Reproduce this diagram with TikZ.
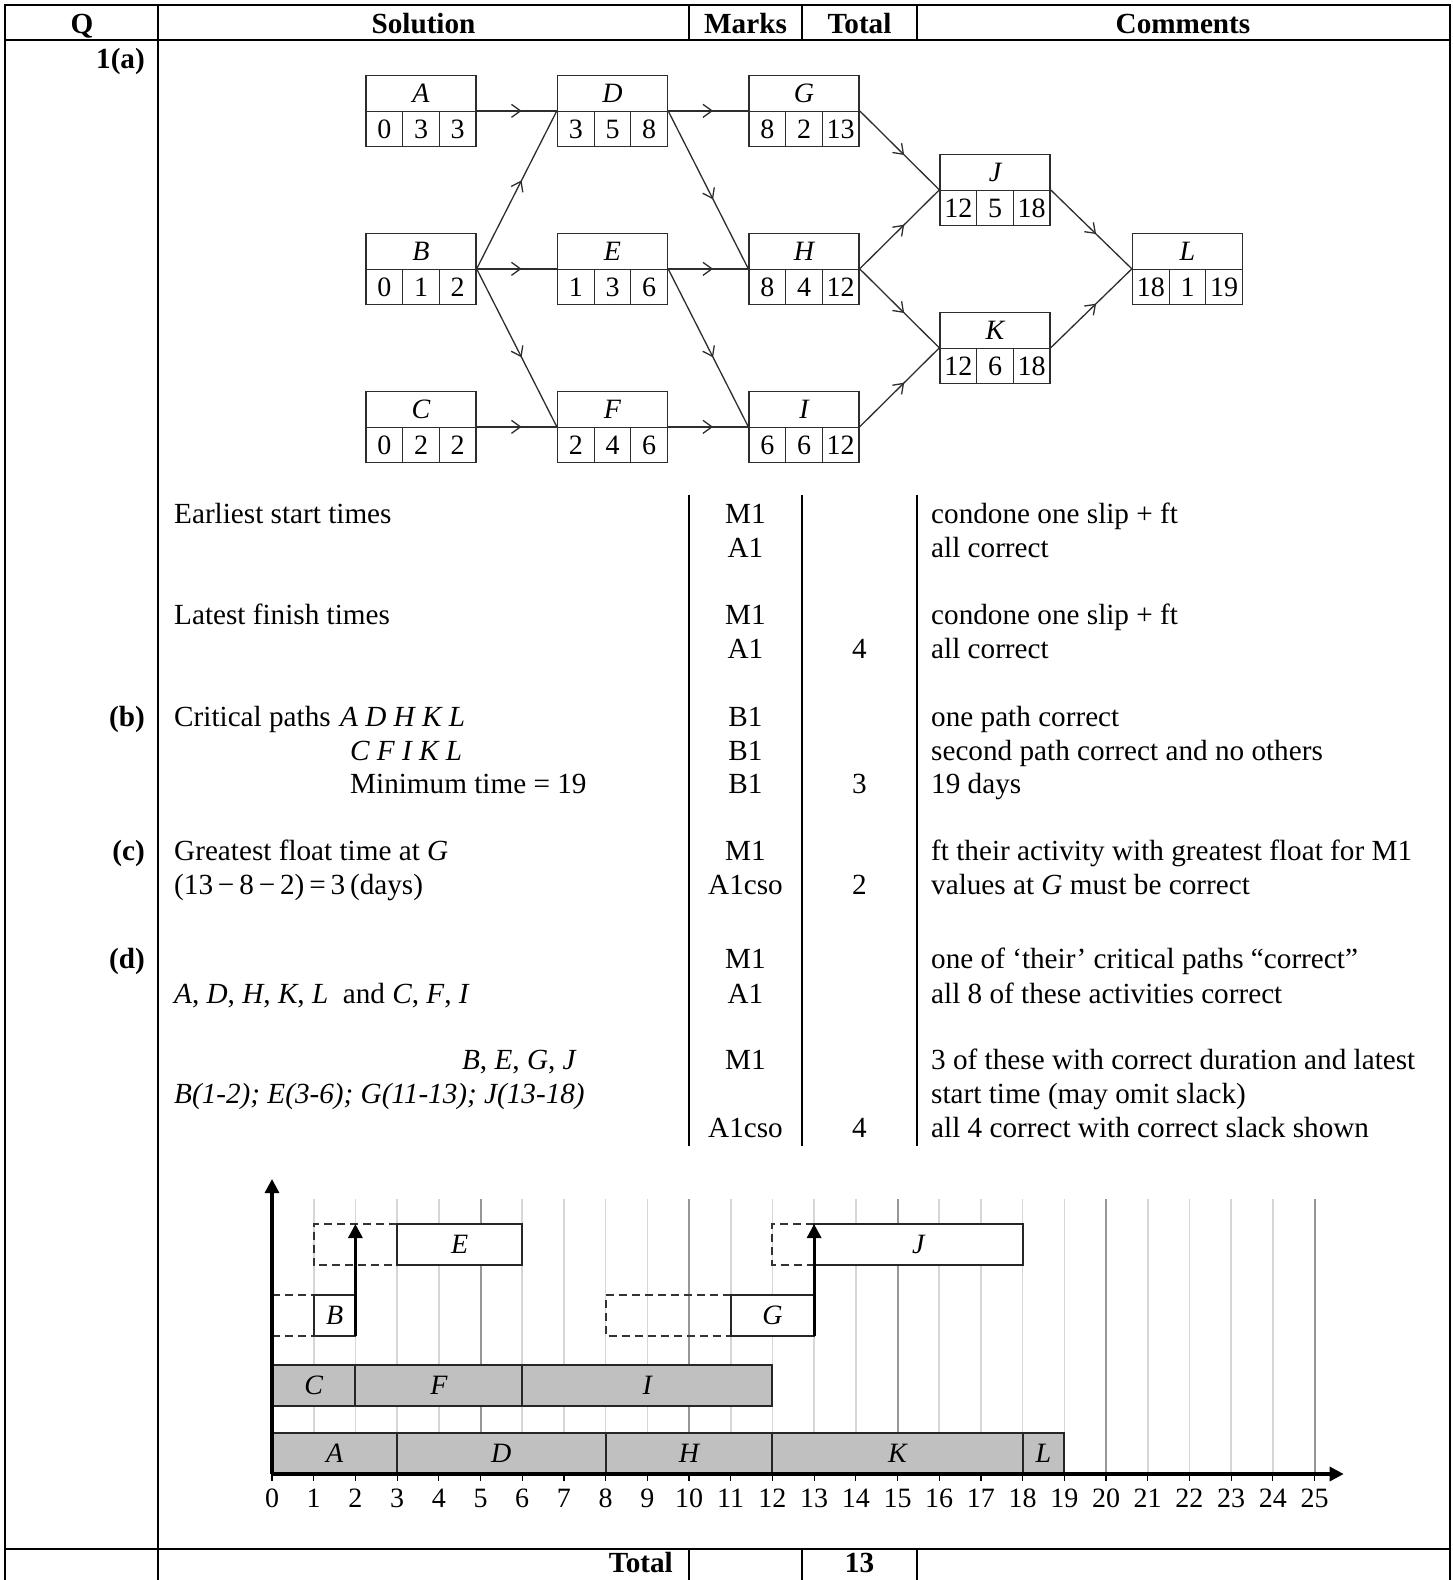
\documentclass[tikz,border=0pt]{standalone}
\usepackage{fontspec}
\setmainfont{Liberation Serif}
\usetikzlibrary{arrows.meta,decorations.markings}

\definecolor{barfill}{RGB}{192,192,192}
\definecolor{gridlt}{RGB}{214,214,214}
\definecolor{griddk}{RGB}{150,150,150}
\definecolor{netline}{RGB}{45,45,45}

% activity box: name, left x, y of the divider, letter, earliest start, duration, latest finish
\newcommand\actbox[7]{%
  \node[boxtop] (#1-t) at ({#2+55},{#3-18}) {#4};
  \node[boxbot] (#1-b) at ({#2+55},{#3+17.5}) {};
  \draw[boxline] ({#2+36.7},#3) -- ({#2+36.7},{#3+35})
                 ({#2+73.3},#3) -- ({#2+73.3},{#3+35});
  \node[boxnum] (#1-es) at ({#2+18.3},{#3+17.5}) {#5};
  \node[boxnum] (#1-du) at ({#2+55},{#3+17.5}) {#6};
  \node[boxnum] (#1-lf) at ({#2+91.7},{#3+17.5}) {#7};
}

\begin{document}
\begin{tikzpicture}[x=1pt,y=-1pt,
  txt/.style={inner sep=0pt, font=\fontsize{29.2}{35}\selectfont},
  lt/.style={txt, anchor=base west},
  ct/.style={txt, anchor=base},
  rt/.style={txt, anchor=base east},
  hd/.style={inner sep=0pt, anchor=base, font=\fontsize{29.2}{35}\selectfont\bfseries},
  rule/.style={line width=2.6pt, line cap=rect},
  boxtop/.style={draw=netline, line width=1.3pt, minimum width=110pt, minimum height=36pt,
    inner sep=0pt, font=\fontsize{28}{30}\selectfont\itshape},
  boxbot/.style={draw=netline, line width=1.3pt, minimum width=110pt, minimum height=35pt, inner sep=0pt},
  boxline/.style={draw=netline, line width=1.3pt},
  boxnum/.style={inner sep=0pt, font=\fontsize{28}{30}\selectfont},
  net/.style={draw=netline, line width=1.3pt, postaction={decorate},
    decoration={markings, mark=at position 0.56 with
      {\arrow{Straight Barb[length=9pt,width=13pt,line width=1.3pt]}}}},
  gl/.style={draw=gridlt, line width=1.6pt},
  gd/.style={draw=griddk, line width=2pt},
  crit/.style={draw=black!85, line width=2pt, fill=barfill},
  nonc/.style={draw=black!85, line width=2pt, fill=white},
  slack/.style={draw=black!80, line width=2pt, dash pattern=on 8pt off 5pt},
  bold arrow/.style={line width=3.2pt, -{Triangle[length=14pt,width=14pt]}},
  barlbl/.style={inner sep=0pt, font=\fontsize{28}{30}\selectfont\itshape},
  axlbl/.style={inner sep=0pt, anchor=base, font=\fontsize{28}{30}\selectfont}
]
\useasboundingbox (0,0) rectangle (1453,1580);

% ---------- table rules ----------
\draw[rule] (5,5) -- (1450,5);
\draw[rule] (5,40) -- (1450,40);
\draw[rule] (5,1549) -- (1450,1549);
\draw[rule] (5,5) -- (5,1580);
\draw[rule] (1450,5) -- (1450,1580);
\draw[rule] (158,5) -- (158,1580);
\foreach \cx in {689,802,917} {
  \draw[rule] (\cx,5) -- (\cx,40);
  \draw[rule] (\cx,496) -- (\cx,1145);
  \draw[rule] (\cx,1549) -- (\cx,1580);
}

% ---------- header ----------
\node[hd] (hQ) at (82,33) {Q};
\node[hd] (hS) at (423.5,33) {Solution};
\node[hd] (hM) at (745.5,33) {Marks};
\node[hd] (hT) at (859.5,33) {Total};
\node[hd] (hC) at (1183,33) {Comments};

% ---------- part labels ----------
\node[hd, anchor=base east] (q1a) at (145,68) {1(a)};
\node[hd, anchor=base east] (qb) at (145,726) {(b)};
\node[hd, anchor=base east] (qc) at (145,860) {(c)};
\node[hd, anchor=base east] (qd) at (145,968) {(d)};

% ---------- activity network ----------
\actbox{A}{366}{111.5}{A}{0}{3}{3}
\actbox{B}{366}{269.5}{B}{0}{1}{2}
\actbox{C}{366}{427.5}{C}{0}{2}{2}
\actbox{D}{557.5}{111.5}{D}{3}{5}{8}
\actbox{E}{557.5}{269.5}{E}{1}{3}{6}
\actbox{F}{557.5}{427.5}{F}{2}{4}{6}
\actbox{G}{749}{111.5}{G}{8}{2}{13}
\actbox{H}{749}{269.5}{H}{8}{4}{12}
\actbox{I}{749}{427.5}{I}{6}{6}{12}
\actbox{J}{940}{190.5}{J}{12}{5}{18}
\actbox{K}{940}{348.5}{K}{12}{6}{18}
\actbox{L}{1132.5}{269.5}{L}{18}{1}{19}

\draw[net] (A-b.north east) -- (D-b.north west);
\draw[net] (B-b.north east) -- (D-b.north west);
\draw[net] (B-b.north east) -- (E-b.north west);
\draw[net] (B-b.north east) -- (F-b.north west);
\draw[net] (C-b.north east) -- (F-b.north west);
\draw[net] (D-b.north east) -- (G-b.north west);
\draw[net] (D-b.north east) -- (H-b.north west);
\draw[net] (E-b.north east) -- (H-b.north west);
\draw[net] (E-b.north east) -- (I-b.north west);
\draw[net] (F-b.north east) -- (I-b.north west);
\draw[net] (G-b.north east) -- (J-b.north west);
\draw[net] (H-b.north east) -- (J-b.north west);
\draw[net] (H-b.north east) -- (K-b.north west);
\draw[net] (I-b.north east) -- (K-b.north west);
\draw[net] (J-b.north east) -- (L-b.north west);
\draw[net] (K-b.north east) -- (L-b.north west);

% ---------- solution text ----------
\node[lt] (s1) at (174,523) {Earliest start times};
\node[lt] (s2) at (174,624) {Latest finish times};
\node[lt] (s3) at (174,726) {Critical paths};
\node[lt] (s3a) at (340,726) {\itshape A D H K L};
\node[lt] (s4) at (350,760) {\itshape C F I K L};
\node[lt] (s5) at (350,793) {Minimum time = 19};
\node[lt] (s6) at (174,860) {Greatest float time at \textit{G}};
\node[lt] (s7) at (174,894) {(13\,−\,8\,−\,2)\,=\,3\,(days)};
\node[lt] (s8) at (174,1003) {\textit{A}, \textit{D}, \textit{H}, \textit{K}, \textit{L}\ \ and \textit{C}, \textit{F}, \textit{I}};
\node[rt] (s9) at (577,1069) {\textit{B}, \textit{E}, \textit{G}, \textit{J}};
\node[lt] (s10) at (174,1103) {\itshape B(1-2); E(3-6); G(11-13); J(13-18)};

% ---------- marks ----------
\node[ct] (m1) at (745.5,523) {M1};
\node[ct] (m2) at (745.5,557) {A1};
\node[ct] (m3) at (745.5,624) {M1};
\node[ct] (m4) at (745.5,658) {A1};
\node[ct] (m5) at (745.5,726) {B1};
\node[ct] (m6) at (745.5,760) {B1};
\node[ct] (m7) at (745.5,793) {B1};
\node[ct] (m8) at (745.5,860) {M1};
\node[ct] (m9) at (745.5,894) {A1cso};
\node[ct] (m10) at (745.5,968) {M1};
\node[ct] (m11) at (745.5,1003) {A1};
\node[ct] (m12) at (745.5,1069) {M1};
\node[ct] (m13) at (745.5,1137) {A1cso};

% ---------- totals ----------
\node[ct] (t1) at (859.5,658) {4};
\node[ct] (t2) at (859.5,793) {3};
\node[ct] (t3) at (859.5,894) {2};
\node[ct] (t4) at (859.5,1137) {4};

% ---------- comments ----------
\node[lt] (c1) at (931,523) {condone one slip + ft};
\node[lt] (c2) at (931,557) {all correct};
\node[lt] (c3) at (931,624) {condone one slip + ft};
\node[lt] (c4) at (931,658) {all correct};
\node[lt] (c5) at (931,726) {one path correct};
\node[lt] (c6) at (931,760) {second path correct and no others};
\node[lt] (c7) at (931,793) {19 days};
\node[lt] (c8) at (931,860) {ft their activity with greatest float for M1};
\node[lt] (c9) at (931,894) {values at \textit{G} must be correct};
\node[lt] (c10) at (931,968) {one of ‘their’ critical paths “correct”};
\node[lt] (c11) at (931,1003) {all 8 of these activities correct};
\node[lt] (c12) at (931,1069) {3 of these with correct duration and latest};
\node[lt] (c13) at (931,1103) {start time (may omit slack)};
\node[lt] (c14) at (931,1137) {all 4 correct with correct slack shown};

% ---------- cascade chart ----------
\begin{scope}[shift={(272,1474)}, x=41.7pt, y=-1pt]
  \foreach \t in {1,...,25} \draw[gl] (\t,0) -- (\t,-275);
  \foreach \t in {5,10,15,20,25} \draw[gd] (\t,0) -- (\t,-275);

  % critical activities
  \draw[crit] (0,-41) rectangle (3,0);
  \draw[crit] (3,-41) rectangle (8,0);
  \draw[crit] (8,-41) rectangle (12,0);
  \draw[crit] (12,-41) rectangle (18,0);
  \draw[crit] (18,-41) rectangle (19,0);
  \draw[crit] (0,-109) rectangle (2,-68);
  \draw[crit] (2,-109) rectangle (6,-68);
  \draw[crit] (6,-109) rectangle (12,-68);

  % activities with float
  \draw[slack] (0,-179) -- (1,-179) (0,-138) -- (1,-138);
  \draw[nonc] (1,-179) rectangle (2,-138);
  \draw[slack] (3,-250) -- (1,-250) -- (1,-209) -- (3,-209);
  \draw[nonc] (3,-250) rectangle (6,-209);
  \draw[slack] (11,-179) -- (8,-179) -- (8,-138) -- (11,-138);
  \draw[nonc] (11,-179) rectangle (13,-138);
  \draw[slack] (13,-250) -- (12,-250) -- (12,-209) -- (13,-209);
  \draw[nonc] (13,-250) rectangle (18,-209);

  \draw[bold arrow] (2,-138) -- (2,-250);
  \draw[bold arrow] (13,-138) -- (13,-250);

  \node[barlbl] (gA) at (1.5,-20.5) {A};
  \node[barlbl] (gD) at (5.5,-20.5) {D};
  \node[barlbl] (gH) at (10,-20.5) {H};
  \node[barlbl] (gK) at (15,-20.5) {K};
  \node[barlbl] (gL) at (18.5,-20.5) {L};
  \node[barlbl] (gC) at (1,-88.5) {C};
  \node[barlbl] (gF) at (4,-88.5) {F};
  \node[barlbl] (gI) at (9,-88.5) {I};
  \node[barlbl] (gB) at (1.5,-158.5) {B};
  \node[barlbl] (gG) at (12,-158.5) {G};
  \node[barlbl] (gE) at (4.5,-229.5) {E};
  \node[barlbl] (gJ) at (15.5,-229.5) {J};

  % axes
  \foreach \t in {0,...,25} {
    \draw[line width=1.2pt] (\t,0) -- (\t,7);
    \node[axlbl] (ax\t) at (\t,33) {\t};
  }
  \draw[bold arrow] (0,0) -- (0,-295);
  \draw[bold arrow] (0,0) -- (25.7,0);
\end{scope}

% ---------- total row ----------
\node[hd, anchor=base east] (totl) at (673,1572) {Total};
\node[hd] (totv) at (859.5,1572) {13};
\end{tikzpicture}
\end{document}
